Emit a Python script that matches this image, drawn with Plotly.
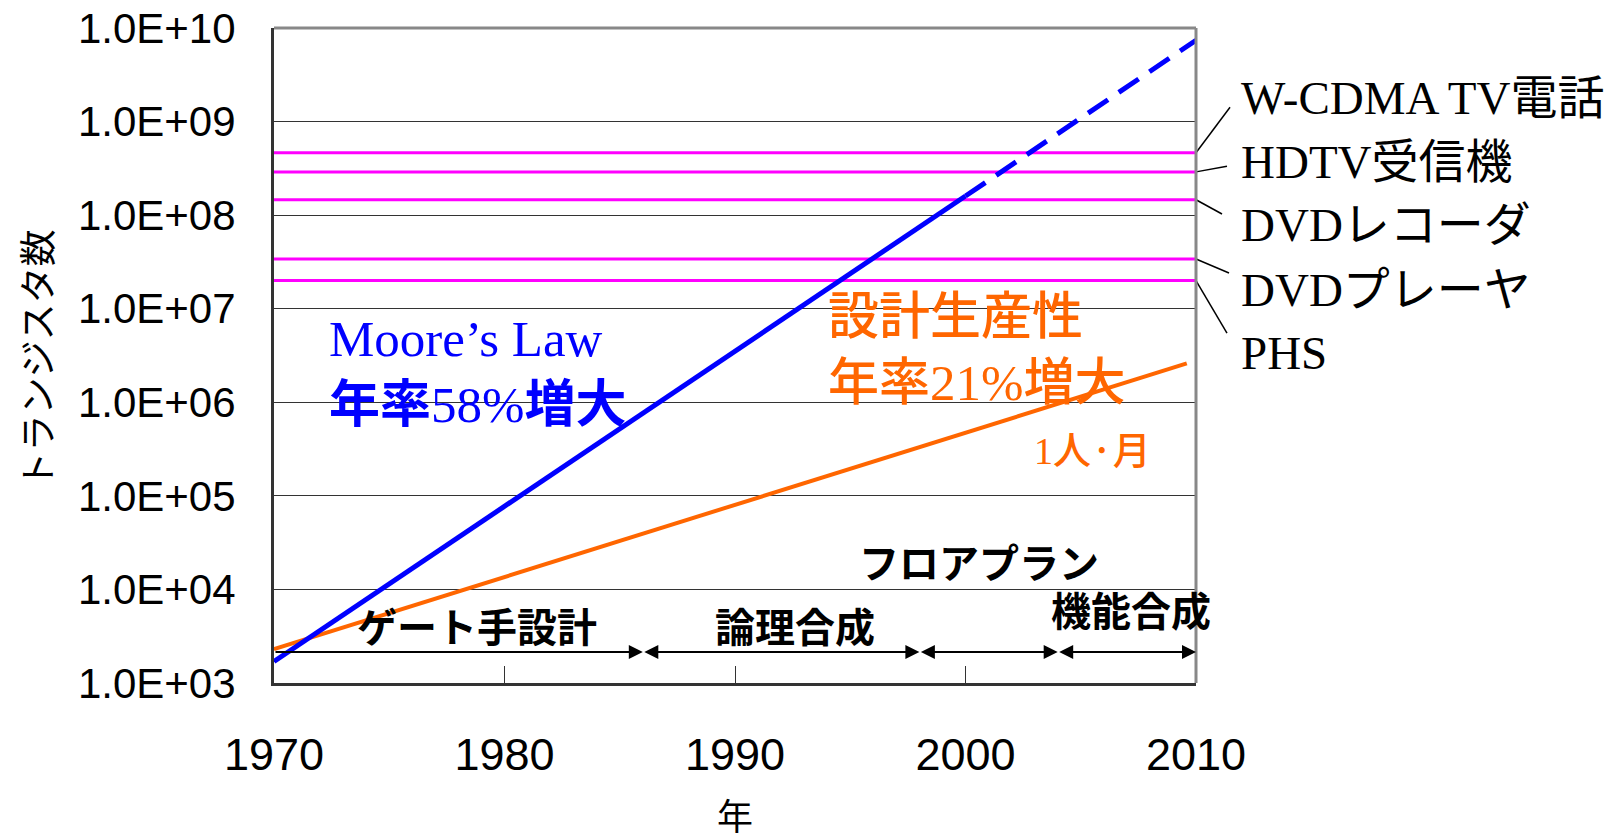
"""Transistor count vs. design productivity chart (Moore's law gap)."""

import math

import plotly.graph_objects as go

# --- data ---------------------------------------------------------------
MOORE_SOLID_YEARS = [1970, 2000]
MOORE_SOLID_TR = [1.7e3, 1.6e8]
MOORE_DASH_YEARS = [2000, 2010]
MOORE_DASH_TR = [1.6e8, 7.4e9]

PROD_YEARS = [1970, 2009.6]
PROD_TR = [2.3e3, 2.6e6]

PRODUCTS = ["W-CDMA TV電話", "HDTV受信機", "DVDレコーダ", "DVDプレーヤ", "PHS"]
PRODUCT_TR = [4.65e8, 2.9e8, 1.46e8, 3.4e7, 2.0e7]

STAGES = ["ゲート手設計", "論理合成", "フロアプラン", "機能合成"]
STAGE_BOUNDS = [1970, 1986, 1998, 2004, 2010]

X_TICKS = [1970, 1980, 1990, 2000, 2010]
Y_TICKS = [1e3, 1e4, 1e5, 1e6, 1e7, 1e8, 1e9, 1e10]
Y_TICK_TEXT = ["1.0E+03", "1.0E+04", "1.0E+05", "1.0E+06",
               "1.0E+07", "1.0E+08", "1.0E+09", "1.0E+10"]

# --- style ----------------------------------------------------------------
BLUE = "#0000FF"
ORANGE = "#FF6600"
MAGENTA = "#FF00FF"
SANS = "Liberation Sans, Arial, sans-serif"
SERIF = "Liberation Serif, Times New Roman, Noto Sans CJK JP, serif"
JP = "Noto Sans CJK JP, sans-serif"

X0, X1 = 1970, 2010
PAGE_OFFSET = 8  # default body margin of the html page

fig = go.Figure()

# product lines (magenta)
for tr in PRODUCT_TR:
    fig.add_trace(go.Scatter(
        x=[X0, X1], y=[tr, tr], mode="lines",
        line={"color": MAGENTA, "width": 3}, showlegend=False,
    ))

fig.add_trace(go.Scatter(
    x=PROD_YEARS, y=PROD_TR, mode="lines",
    line={"color": ORANGE, "width": 4}, showlegend=False,
))
fig.add_trace(go.Scatter(
    x=MOORE_SOLID_YEARS, y=MOORE_SOLID_TR, mode="lines",
    line={"color": BLUE, "width": 5}, showlegend=False,
))
fig.add_trace(go.Scatter(
    x=MOORE_DASH_YEARS, y=MOORE_DASH_TR, mode="lines",
    line={"color": BLUE, "width": 5, "dash": "24px,13px"}, showlegend=False,
))

annotations = []

# design-method stage arrows along the bottom
ARROW_Y = 3.33  # log10 position of the arrow row
for i in range(len(STAGE_BOUNDS) - 1):
    annotations.append(dict(
        x=STAGE_BOUNDS[i + 1], y=ARROW_Y, xref="x", yref="y",
        ax=STAGE_BOUNDS[i], ay=ARROW_Y, axref="x", ayref="y",
        text="", showarrow=True, arrowcolor="black", arrowwidth=2,
        arrowhead=2, arrowsize=1.4,
        startarrowhead=2, startarrowsize=1.4,
        arrowside="end" if i == 0 else "end+start",
        standoff=0, startstandoff=0,
    ))

STAGE_POS = [(1978.8, 3.62), (1992.6, 3.62), (2000.6, 4.30), (2007.2, 3.79)]
for label, (sx, sy) in zip(STAGES, STAGE_POS):
    annotations.append(dict(
        x=sx, y=sy, xref="x", yref="y", text=f"<b>{label}</b>",
        showarrow=False, font={"family": JP, "size": 40, "color": "black"},
    ))

# product labels with leader lines
LABEL_Y = [0.893, 0.795, 0.699, 0.600, 0.504]
LEADER_END = [(1.0369, 0.879), (1.0336, 0.789), (1.0282, 0.716),
              (1.0358, 0.626), (1.0336, 0.534)]
shapes = []
for name, tr, ly, (ex, ey) in zip(PRODUCTS, PRODUCT_TR, LABEL_Y, LEADER_END):
    annotations.append(dict(
        x=1.047, y=ly, xref="paper", yref="paper", text=name,
        xanchor="left", yanchor="middle", showarrow=False,
        font={"family": SERIF, "size": 47, "color": "black"},
    ))
    py = (math.log10(tr) - 3) / 7
    shapes.append(dict(
        type="line", xref="paper", yref="paper",
        x0=1.0, y0=py, x1=ex, y1=ey, line={"color": "black", "width": 1.5},
    ))

# growth-rate labels
bold_jp = '<span style="font-family:Noto Sans CJK JP;font-weight:bold">{}</span>'
med_jp = '<span style="font-family:Noto Sans CJK JP;font-weight:500">{}</span>'
annotations += [
    dict(x=0.058, y=0.471, xref="paper", yref="paper",
         text="Moore’s Law<br>" + bold_jp.format("年率") + "58%" + bold_jp.format("増大"),
         xanchor="left", yanchor="middle", align="left", showarrow=False,
         font={"family": SERIF, "size": 51, "color": BLUE}),
    dict(x=0.599, y=0.516, xref="paper", yref="paper",
         text=med_jp.format("設計生産性") + "<br>"
         + med_jp.format("年率") + "21%" + med_jp.format("増大"),
         xanchor="left", yanchor="middle", align="left", showarrow=False,
         font={"family": SERIF, "size": 51, "color": ORANGE}),
    dict(x=0.822, y=0.360, xref="paper", yref="paper",
         text="1" + med_jp.format("人·月"),
         xanchor="left", yanchor="middle", showarrow=False,
         font={"family": SERIF, "size": 38, "color": ORANGE}),
]

# axis titles
annotations += [
    dict(x=-0.258, y=0.494, xref="paper", yref="paper", text="トランジスタ数",
         textangle=-90, xanchor="center", yanchor="middle", showarrow=False,
         font={"family": JP, "size": 37, "color": "black"}),
    dict(x=0.5, y=-0.2, xref="paper", yref="paper", text="年",
         xanchor="center", yanchor="middle",
         showarrow=False, font={"family": JP, "size": 36, "color": "black"}),
]

# plot-area frame: top/right in grey
shapes += [
    dict(type="line", xref="paper", yref="paper", x0=0, y0=1, x1=1, y1=1,
         line={"color": "#888888", "width": 3}),
    dict(type="line", xref="paper", yref="paper", x0=1, y0=0, x1=1, y1=1,
         line={"color": "#888888", "width": 3}),
]

fig.update_layout(
    width=1619 - PAGE_OFFSET,
    height=840 - PAGE_OFFSET,
    margin={"l": 274 - PAGE_OFFSET, "r": 423, "t": 28 - PAGE_OFFSET,
            "b": 157, "autoexpand": False},
    paper_bgcolor="white",
    plot_bgcolor="white",
    showlegend=False,
    annotations=annotations,
    shapes=shapes,
    xaxis={
        "range": [X0, X1],
        "automargin": False,
        "tickvals": X_TICKS,
        "ticks": "inside",
        "ticklen": 17,
        "tickwidth": 1,
        "tickcolor": "#333333",
        "showgrid": False,
        "zeroline": False,
        "showline": True,
        "linecolor": "#333333",
        "linewidth": 3,
        "ticklabelstandoff": 30,
        "ticklabeloverflow": "allow",
        "tickfont": {"family": SANS, "size": 45, "color": "black"},
    },
    yaxis={
        "type": "log",
        "range": [3, 10],
        "automargin": False,
        "tickvals": Y_TICKS,
        "ticktext": Y_TICK_TEXT,
        "showgrid": True,
        "gridcolor": "#333333",
        "gridwidth": 1,
        "zeroline": False,
        "showline": True,
        "linecolor": "#333333",
        "linewidth": 3,
        "ticklabelstandoff": 27,
        "ticklabeloverflow": "allow",
        "tickfont": {"family": SANS, "size": 42, "color": "black"},
    },
)

fig.write_html("out.html")
